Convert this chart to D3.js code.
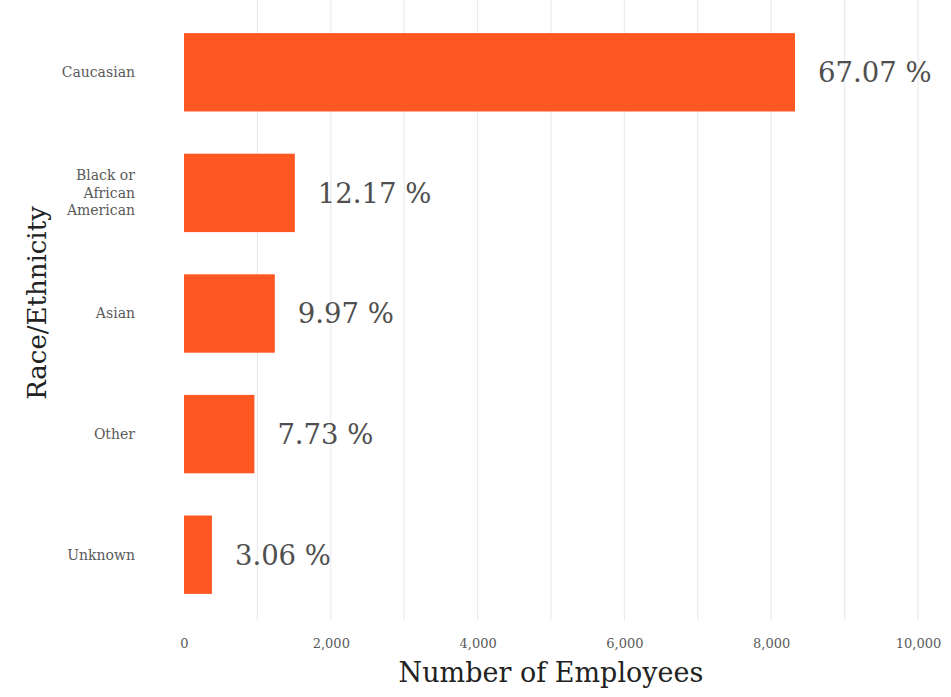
<!DOCTYPE html>
<html>
<head>
<meta charset="utf-8">
<script src="https://cdn.jsdelivr.net/npm/d3@7"></script>
<style>
  html, body { margin: 0; padding: 0; background: #ffffff; }
  svg { display: block; font-family: "DejaVu Serif", "Liberation Serif", serif; }
</style>
</head>
<body>
<svg id="chart" width="951" height="697"></svg>
<script>
// Employee headcount by race/ethnicity
const categories = ["Caucasian", "Black or African American", "Asian", "Other", "Unknown"];
const categoryLines = [["Caucasian"], ["Black or", "African", "American"], ["Asian"], ["Other"], ["Unknown"]];
const employees = [8324, 1510, 1237, 959, 380];
const xTicks = [0, 2000, 4000, 6000, 8000, 10000];
const gridTicks = [1000, 2000, 3000, 4000, 5000, 6000, 7000, 8000, 9000, 10000];

const svg = d3.select("#chart");
const total = d3.sum(employees);

const x = d3.scaleLinear().domain([0, 10000]).range([184, 918]);
const y = d3.scaleBand().domain(categories).range([12, 615])
  .paddingInner(0.35).paddingOuter(0.175);

// vertical gridlines
svg.append("g").selectAll("line").data(gridTicks).join("line")
  .attr("x1", d => x(d)).attr("x2", d => x(d))
  .attr("y1", 0).attr("y2", 620)
  .attr("stroke", "#ebebeb").attr("stroke-width", 1.2);

// bars
svg.append("g").selectAll("rect").data(categories).join("rect")
  .attr("x", x(0))
  .attr("y", d => y(d))
  .attr("width", (d, i) => x(employees[i]) - x(0))
  .attr("height", y.bandwidth())
  .attr("fill", "#fe5722");

// percentage labels
svg.append("g").selectAll("text").data(categories).join("text")
  .attr("x", (d, i) => x(employees[i]) + 23)
  .attr("y", d => y(d) + y.bandwidth() / 2)
  .attr("dy", "0.36em")
  .attr("font-size", 27.5)
  .attr("fill", "#4f4f4f")
  .text((d, i) => (employees[i] / total * 100).toFixed(2) + " %");

// category labels
const catG = svg.append("g").selectAll("text").data(categories).join("text")
  .attr("text-anchor", "end")
  .attr("font-size", 14)
  .attr("fill", "#5a5a5a")
  .attr("transform", d => `translate(135,${y(d) + y.bandwidth() / 2})`);
catG.each(function(d, i) {
  const lines = categoryLines[i];
  const lh = 17.5;
  const off = -(lines.length - 1) * lh / 2;
  d3.select(this).selectAll("tspan").data(lines).join("tspan")
    .attr("x", 0)
    .attr("y", (t, j) => off + j * lh)
    .attr("dy", "0.35em")
    .text(t => t);
});

// x axis tick labels
const xAxis = d3.axisBottom(x).tickValues(xTicks).tickSize(0).tickPadding(0)
  .tickFormat(d3.format(","));
const axG = svg.append("g").attr("transform", "translate(0,639)").call(xAxis);
axG.select(".domain").remove();
axG.selectAll("text")
  .attr("font-family", "DejaVu Serif, Liberation Serif, serif")
  .attr("font-size", 13)
  .attr("fill", "#5a5a5a");

// axis titles
svg.append("text")
  .attr("x", 551).attr("y", 682)
  .attr("text-anchor", "middle")
  .attr("font-size", 27)
  .attr("fill", "#222")
  .text("Number of Employees");

svg.append("text")
  .attr("transform", "translate(37,303) rotate(-90)")
  .attr("dy", "0.35em")
  .attr("text-anchor", "middle")
  .attr("font-size", 26)
  .attr("fill", "#222")
  .text("Race/Ethnicity");
</script>
</body>
</html>
